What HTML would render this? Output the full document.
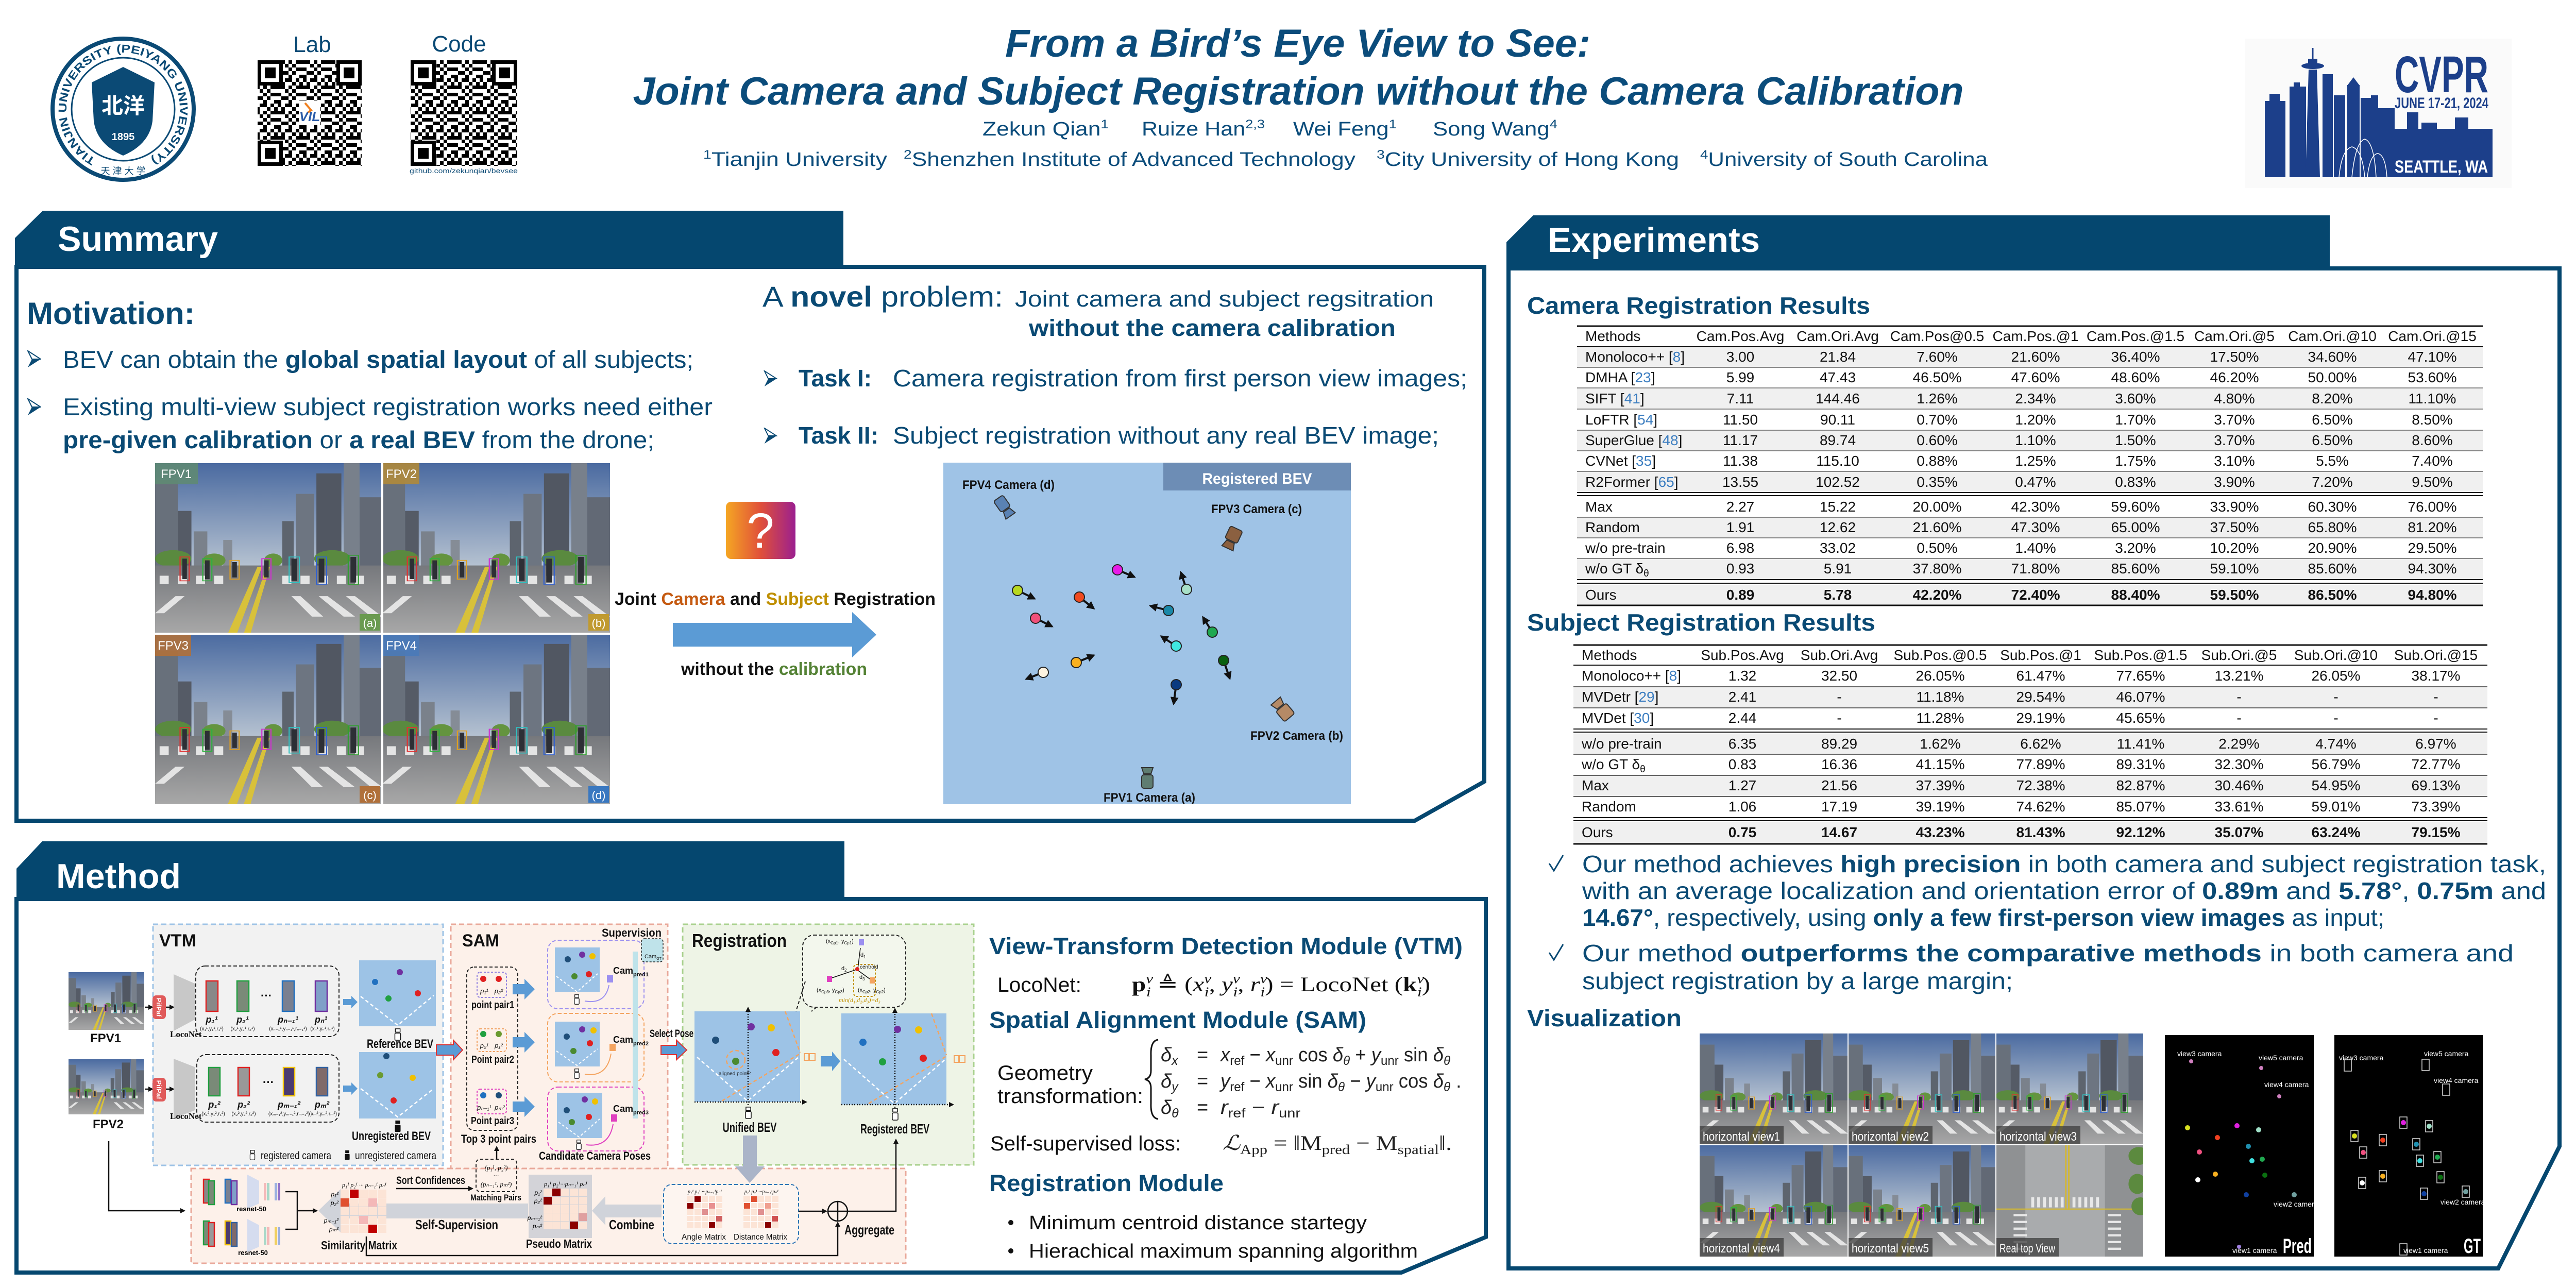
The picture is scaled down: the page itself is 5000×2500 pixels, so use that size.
<!DOCTYPE html>
<html><head><meta charset="utf-8">
<style>
html,body{margin:0;padding:0;background:#fff;width:5000px;height:2500px;overflow:hidden;}
svg{display:block;}
text{font-family:"Liberation Sans",Arial,sans-serif;}
.s{font-family:"Liberation Serif","Times New Roman",serif;}
.cjk{font-family:"Liberation Sans","Noto Sans CJK SC",sans-serif;}
</style></head><body>
<svg width="5000" height="2500" viewBox="0 0 5000 2500" xmlns="http://www.w3.org/2000/svg" xmlns:xlink="http://www.w3.org/1999/xlink">
<defs>
<linearGradient id="sky" x1="0" y1="0" x2="0" y2="1"><stop offset="0" stop-color="#4a6aa0"/><stop offset="1" stop-color="#b8c4d2"/></linearGradient>
<linearGradient id="gnd" x1="0" y1="0" x2="0" y2="1"><stop offset="0" stop-color="#76787c"/><stop offset="1" stop-color="#a8a8a8"/></linearGradient>
<linearGradient id="qg" x1="0" y1="0" x2="1" y2="0"><stop offset="0" stop-color="#f5a623"/><stop offset="0.5" stop-color="#e0503a"/><stop offset="1" stop-color="#9b1f8f"/></linearGradient>
<marker id="ah" viewBox="0 0 10 10" refX="8" refY="5" markerWidth="4" markerHeight="4" orient="auto"><path d="M0,0 L10,5 L0,10 z" fill="#111"/></marker>
<pattern id="qr" x="0" y="5" width="49" height="49" patternUnits="userSpaceOnUse">
<rect width="49" height="49" fill="#fff"/>
<g fill="#000">
<rect x="0" y="0" width="7" height="7"/><rect x="14" y="0" width="14" height="7"/><rect x="35" y="0" width="7" height="7"/>
<rect x="7" y="7" width="7" height="7"/><rect x="28" y="7" width="7" height="7"/><rect x="42" y="7" width="7" height="7"/>
<rect x="0" y="14" width="14" height="7"/><rect x="21" y="14" width="7" height="7"/><rect x="35" y="14" width="14" height="7"/>
<rect x="14" y="21" width="7" height="7"/><rect x="28" y="21" width="7" height="7"/>
<rect x="0" y="28" width="7" height="7"/><rect x="21" y="28" width="7" height="7"/><rect x="35" y="28" width="14" height="7"/>
<rect x="7" y="35" width="14" height="7"/><rect x="28" y="35" width="7" height="7"/>
<rect x="0" y="42" width="7" height="7"/><rect x="21" y="42" width="7" height="7"/><rect x="42" y="42" width="7" height="7"/>
</g></pattern>
<symbol id="fd" viewBox="0 0 49 49"><rect width="49" height="49" fill="#000"/><rect x="7" y="7" width="35" height="35" fill="#fff"/><rect x="14" y="14" width="21" height="21" fill="#000"/></symbol>
<symbol id="street" viewBox="0 0 100 100" preserveAspectRatio="none">
<rect width="100" height="62" fill="url(#sky)"/>
<rect x="0" y="10" width="10" height="52" fill="#68707b"/>
<rect x="10" y="28" width="6" height="34" fill="#555b66"/>
<rect x="17" y="40" width="6" height="22" fill="#7a818b"/>
<rect x="30" y="45" width="4" height="17" fill="#858c96"/>
<rect x="56" y="34" width="5" height="28" fill="#5d646e"/>
<rect x="62" y="18" width="8" height="44" fill="#6d7581"/>
<rect x="71" y="6" width="11" height="56" fill="#515762"/>
<rect x="83" y="0" width="7" height="62" fill="#78808b"/>
<rect x="90" y="20" width="10" height="42" fill="#626975"/>
<ellipse cx="8" cy="56" rx="8" ry="5" fill="#5a8a3f"/>
<ellipse cx="26" cy="57" rx="5" ry="4" fill="#64943f"/>
<ellipse cx="52" cy="57" rx="4" ry="4" fill="#64943f"/>
<ellipse cx="78" cy="56" rx="8" ry="5" fill="#5a8a3f"/>
<rect y="60" width="100" height="40" fill="url(#gnd)"/>
<g fill="#e4e4e4">
<rect x="2" y="66" width="4" height="5"/><rect x="10" y="66" width="4" height="5"/><rect x="18" y="66" width="4" height="5"/><rect x="26" y="66" width="4" height="5"/><rect x="56" y="66" width="4" height="5"/><rect x="64" y="66" width="4" height="5"/><rect x="72" y="66" width="4" height="5"/><rect x="80" y="66" width="4" height="5"/><rect x="88" y="66" width="4" height="5"/>
<polygon points="0,88 9,78 13,78 4,88"/><polygon points="60,78 64,78 74,90 69,90"/><polygon points="72,78 76,78 88,90 83,90"/><polygon points="84,78 88,78 100,90 95,90"/>
</g>
<polygon points="45,61 47,61 36,100 32,100" fill="#d8c13a"/>
<polygon points="49,61 50.5,61 42,100 39,100" fill="#d8c13a"/>
<g fill="#2d2f35">
<rect x="12" y="56" width="2" height="12"/><rect x="22" y="57" width="2" height="11"/><rect x="34" y="58" width="2" height="9"/><rect x="48" y="57" width="2" height="10"/><rect x="60" y="56" width="2.5" height="13"/><rect x="72" y="56" width="2.5" height="14"/><rect x="86" y="55" width="2.5" height="15"/>
</g>
<g fill="none" stroke-width="0.5">
<rect x="11" y="55" width="4" height="14" stroke="#e03030"/><rect x="21" y="56" width="4" height="13" stroke="#30b040"/><rect x="33" y="57" width="4" height="11" stroke="#e0a020"/><rect x="47" y="56" width="4" height="12" stroke="#d030d0"/><rect x="59" y="55" width="4.5" height="15" stroke="#30c0c0"/><rect x="71" y="55" width="4.5" height="16" stroke="#3060d0"/><rect x="85" y="54" width="4.5" height="17" stroke="#30a030"/>
</g>
</symbol>
<symbol id="topv" viewBox="0 0 100 100" preserveAspectRatio="none">
<rect width="100" height="100" fill="#8f9193"/>
<rect x="20" width="54" height="100" fill="#a9abad"/>
<rect x="47" width="1" height="58" fill="#d4b830"/><rect x="49" width="1" height="58" fill="#d4b830"/>
<rect x="0" y="57" width="100" height="1" fill="#d4b830"/>
<g fill="#e8e8e8"><rect x="24" y="47" width="2" height="9"/><rect x="28" y="47" width="2" height="9"/><rect x="32" y="47" width="2" height="9"/><rect x="36" y="47" width="2" height="9"/><rect x="40" y="47" width="2" height="9"/><rect x="44" y="47" width="2" height="9"/><rect x="52" y="47" width="2" height="9"/><rect x="56" y="47" width="2" height="9"/><rect x="60" y="47" width="2" height="9"/><rect x="64" y="47" width="2" height="9"/><rect x="68" y="47" width="2" height="9"/>
<rect x="12" y="62" width="9" height="2"/><rect x="12" y="68" width="9" height="2"/><rect x="12" y="74" width="9" height="2"/><rect x="12" y="80" width="9" height="2"/><rect x="12" y="86" width="9" height="2"/><rect x="12" y="92" width="9" height="2"/>
<rect x="76" y="62" width="9" height="2"/><rect x="76" y="68" width="9" height="2"/><rect x="76" y="74" width="9" height="2"/><rect x="76" y="80" width="9" height="2"/><rect x="76" y="86" width="9" height="2"/><rect x="76" y="92" width="9" height="2"/></g>
<ellipse cx="97" cy="10" rx="7" ry="8" fill="#5c8a3f"/><ellipse cx="96" cy="35" rx="6" ry="9" fill="#5c8a3f"/><ellipse cx="98" cy="55" rx="6" ry="8" fill="#5c8a3f"/>
</symbol>
<symbol id="bul" viewBox="0 0 27 34"><path d="M1,1 L26,17 L9,17 Z" fill="#fff" stroke="#0a4a74" stroke-width="2"/><path d="M1,33 L26,17 L9,17 Z" fill="#0a4a74"/></symbol>
<symbol id="camo" viewBox="0 0 14 26"><rect x="2" y="1" width="10" height="7" fill="#fff" stroke="#111" stroke-width="1.6"/><rect x="1" y="10" width="12" height="15" rx="2" fill="#fff" stroke="#111" stroke-width="1.6"/></symbol>
<symbol id="camf" viewBox="0 0 14 26"><rect x="2" y="1" width="10" height="7" fill="#111"/><rect x="1" y="10" width="12" height="15" rx="2" fill="#111"/></symbol>
</defs>

<rect width="5000" height="2500" fill="#fff"/>

<!-- ===== HEADER ===== -->
<circle cx="239" cy="212" r="137" fill="#fff" stroke="#0b4a75" stroke-width="8"/>
<circle cx="239" cy="212" r="100" fill="none" stroke="#0b4a75" stroke-width="3"/>
<path id="ringp" d="M239,322 A110,110 0 1,1 239,102 A110,110 0 1,1 239,322" fill="none"/>
<text font-size="22" font-weight="bold" fill="#0b4a75"><textPath href="#ringp" xlink:href="#ringp" startOffset="55" textLength="580" lengthAdjust="spacingAndGlyphs">TIANJIN UNIVERSITY (PEIYANG UNIVERSITY)</textPath></text>
<path d="M239,130 L300,160 L296,235 Q290,280 239,302 Q188,280 182,235 L178,160 Z" fill="#0b4a75"/>
<text x="239" y="220" font-size="42" font-weight="bold" fill="#fff" text-anchor="middle" class="cjk">北洋</text>
<text x="239" y="272" font-size="20" font-weight="bold" fill="#fff" text-anchor="middle">1895</text>
<text x="239" y="338" font-size="18" fill="#0b4a75" text-anchor="middle" class="cjk">天 津 大 学</text>

<text x="606" y="101" font-size="44" fill="#0b4a75" text-anchor="middle">Lab</text>
<rect x="500" y="117" width="202" height="205" fill="url(#qr)"/>
<use href="#fd" xlink:href="#fd" x="500" y="117" width="49" height="49"/>
<use href="#fd" xlink:href="#fd" x="653" y="117" width="49" height="49"/>
<use href="#fd" xlink:href="#fd" x="500" y="273" width="49" height="49"/>
<rect x="580" y="195" width="42" height="48" fill="#fff"/>
<text x="601" y="235" font-size="26" font-weight="bold" font-style="italic" fill="#2a5ba8" text-anchor="middle">VIL</text>
<path d="M592,200 L604,214 L598,218" stroke="#f08020" stroke-width="4" fill="none"/>

<text x="891" y="100" font-size="44" fill="#0b4a75" text-anchor="middle">Code</text>
<rect x="797" y="117" width="207" height="205" fill="url(#qr)"/>
<use href="#fd" xlink:href="#fd" x="797" y="117" width="49" height="49"/>
<use href="#fd" xlink:href="#fd" x="955" y="117" width="49" height="49"/>
<use href="#fd" xlink:href="#fd" x="797" y="273" width="49" height="49"/>
<text x="900" y="336" font-size="13" fill="#0b4a75" text-anchor="middle" textLength="210" lengthAdjust="spacingAndGlyphs">github.com/zekunqian/bevsee</text>

<text x="2519" y="110" text-anchor="middle" font-size="76" font-weight="bold" font-style="italic" fill="#0b4c7b" textLength="1136" lengthAdjust="spacingAndGlyphs">From a Bird’s Eye View to See:</text>
<text x="2520" y="203" text-anchor="middle" font-size="76" font-weight="bold" font-style="italic" fill="#0b4c7b" textLength="2583" lengthAdjust="spacingAndGlyphs">Joint Camera and Subject Registration without the Camera Calibration</text>

<g font-size="38" fill="#0b4c7b">
<text x="1907" y="263" textLength="245" lengthAdjust="spacingAndGlyphs">Zekun Qian<tspan font-size="24" dy="-14">1</tspan></text>
<text x="2216" y="263" textLength="239" lengthAdjust="spacingAndGlyphs">Ruize Han<tspan font-size="24" dy="-14">2,3</tspan></text>
<text x="2510" y="263" textLength="201" lengthAdjust="spacingAndGlyphs">Wei Feng<tspan font-size="24" dy="-14">1</tspan></text>
<text x="2781" y="263" textLength="242" lengthAdjust="spacingAndGlyphs">Song Wang<tspan font-size="24" dy="-14">4</tspan></text>
<text x="1365" y="322" textLength="357" lengthAdjust="spacingAndGlyphs"><tspan font-size="24" dy="-14">1</tspan><tspan dy="14">Tianjin University</tspan></text>
<text x="1754" y="322" textLength="877" lengthAdjust="spacingAndGlyphs"><tspan font-size="24" dy="-14">2</tspan><tspan dy="14">Shenzhen Institute of Advanced Technology</tspan></text>
<text x="2672" y="322" textLength="587" lengthAdjust="spacingAndGlyphs"><tspan font-size="24" dy="-14">3</tspan><tspan dy="14">City University of Hong Kong</tspan></text>
<text x="3300" y="322" textLength="558" lengthAdjust="spacingAndGlyphs"><tspan font-size="24" dy="-14">4</tspan><tspan dy="14">University of South Carolina</tspan></text>
</g>

<!-- CVPR logo -->
<rect x="4357" y="75" width="518" height="290" fill="#fafafa"/>
<g fill="#1c3f8a">
<rect x="4396" y="196" width="40" height="148"/><rect x="4405" y="182" width="20" height="16"/>
<rect x="4444" y="168" width="32" height="176"/><rect x="4452" y="160" width="12" height="10"/>
<polygon points="4481,135 4497,135 4503,344 4475,344"/>
<ellipse cx="4489" cy="128" rx="22" ry="6"/><rect x="4480" y="114" width="18" height="12"/><rect x="4487.5" y="93" width="3" height="22"/>
<rect x="4508" y="144" width="20" height="200"/>
<rect x="4530" y="185" width="22" height="159"/>
<rect x="4556" y="165" width="24" height="179"/><polygon points="4556,166 4568,150 4580,166"/>
<rect x="4582" y="190" width="20" height="154"/>
<rect x="4602" y="185" width="14" height="159"/>
<rect x="4616" y="210" width="32" height="134"/>
<rect x="4648" y="250" width="190" height="94"/>
<rect x="4672" y="218" width="22" height="34"/><rect x="4700" y="238" width="30" height="14"/><rect x="4765" y="228" width="26" height="24"/>
<path d="M4790,255 Q4815,240 4838,280 L4838,255 Z"/>
</g>
<g stroke="#fff" stroke-width="1.5" fill="none"><path d="M4540,344 Q4545,290 4565,285 Q4585,290 4590,344"/><path d="M4565,344 Q4572,275 4590,270 Q4608,275 4612,344"/><path d="M4595,344 Q4600,300 4615,298 Q4630,300 4633,344"/></g>
<text x="4648" y="179" font-size="100" font-weight="bold" fill="#1c3f8a" textLength="182" lengthAdjust="spacingAndGlyphs">CVPR</text>
<text x="4648" y="210" font-size="30" font-weight="bold" fill="#1c3f8a" textLength="182" lengthAdjust="spacingAndGlyphs">JUNE 17-21, 2024</text>
<text x="4648" y="335" font-size="34" font-weight="bold" fill="#fff" textLength="181" lengthAdjust="spacingAndGlyphs">SEATTLE, WA</text>

<!-- ===== SUMMARY PANEL ===== -->
<path d="M32,518 H2881 V1517 L2746,1593 H32 Z" fill="#fff" stroke="#05476f" stroke-width="8"/>
<polygon points="83,409 1637,409 1637,522 29,522 29,462" fill="#05476f"/>
<text x="112" y="487" font-size="68" font-weight="bold" fill="#fff" textLength="311" lengthAdjust="spacingAndGlyphs">Summary</text>

<text x="52" y="629" font-size="60" font-weight="bold" fill="#0a4a74" textLength="326" lengthAdjust="spacingAndGlyphs">Motivation:</text>
<use href="#bul" xlink:href="#bul" x="53" y="680" width="27" height="34"/>
<text x="122" y="714" font-size="47" fill="#0a4a74" textLength="1224" lengthAdjust="spacingAndGlyphs">BEV can obtain the <tspan font-weight="bold">global spatial layout</tspan> of all subjects;</text>
<use href="#bul" xlink:href="#bul" x="53" y="773" width="27" height="34"/>
<text x="122" y="806" font-size="47" fill="#0a4a74" textLength="1261" lengthAdjust="spacingAndGlyphs">Existing multi-view subject registration works need either</text>
<text x="122" y="870" font-size="47" fill="#0a4a74" textLength="1148" lengthAdjust="spacingAndGlyphs"><tspan font-weight="bold">pre-given calibration</tspan> or <tspan font-weight="bold">a real BEV</tspan> from the drone;</text>

<text x="1480" y="595" font-size="56" fill="#0a4a74" textLength="467" lengthAdjust="spacingAndGlyphs">A <tspan font-weight="bold">novel</tspan> problem:</text>
<text x="1970" y="595" font-size="44" fill="#0a4a74" textLength="813" lengthAdjust="spacingAndGlyphs">Joint camera and subject regsitration</text>
<text x="1997" y="652" font-size="45" font-weight="bold" fill="#0a4a74" textLength="712" lengthAdjust="spacingAndGlyphs">without the camera calibration</text>
<use href="#bul" xlink:href="#bul" x="1482" y="719" width="27" height="32"/>
<text x="1550" y="750" font-size="46" font-weight="bold" fill="#0a4a74" textLength="142" lengthAdjust="spacingAndGlyphs">Task I:</text>
<text x="1733" y="750" font-size="46" fill="#0a4a74" textLength="1115" lengthAdjust="spacingAndGlyphs">Camera registration from first person view images;</text>
<use href="#bul" xlink:href="#bul" x="1482" y="830" width="27" height="32"/>
<text x="1550" y="861" font-size="46" font-weight="bold" fill="#0a4a74" textLength="155" lengthAdjust="spacingAndGlyphs">Task II:</text>
<text x="1733" y="861" font-size="46" fill="#0a4a74" textLength="1060" lengthAdjust="spacingAndGlyphs">Subject registration without any real BEV image;</text>

<!-- photos -->
<use href="#street" xlink:href="#street" x="301" y="899" width="441" height="331"/>
<use href="#street" xlink:href="#street" x="742" y="899" width="442" height="331"/>
<use href="#street" xlink:href="#street" x="301" y="1230" width="441" height="331"/>
<use href="#street" xlink:href="#street" x="742" y="1230" width="442" height="331"/>
<rect x="740" y="899" width="4" height="662" fill="#fff"/><rect x="301" y="1228" width="883" height="4" fill="#fff"/>
<rect x="301" y="899" width="83" height="41" fill="#5f8a73" opacity="0.9"/><text x="342" y="928" font-size="24" fill="#fff" text-anchor="middle">FPV1</text>
<rect x="744" y="899" width="70" height="41" fill="#b08a3a" opacity="0.9"/><text x="779" y="928" font-size="24" fill="#fff" text-anchor="middle">FPV2</text>
<rect x="301" y="1232" width="70" height="41" fill="#b0703a" opacity="0.9"/><text x="336" y="1261" font-size="24" fill="#fff" text-anchor="middle">FPV3</text>
<rect x="744" y="1232" width="70" height="41" fill="#4a7ab8" opacity="0.9"/><text x="779" y="1261" font-size="24" fill="#fff" text-anchor="middle">FPV4</text>
<rect x="698" y="1192" width="40" height="32" fill="#6a9a50"/><text x="718" y="1217" font-size="22" fill="#fff" text-anchor="middle">(a)</text>
<rect x="1142" y="1192" width="40" height="32" fill="#c09a30"/><text x="1162" y="1217" font-size="22" fill="#fff" text-anchor="middle">(b)</text>
<rect x="698" y="1526" width="40" height="32" fill="#b0703a"/><text x="718" y="1551" font-size="22" fill="#fff" text-anchor="middle">(c)</text>
<rect x="1142" y="1526" width="40" height="32" fill="#3a78c0"/><text x="1162" y="1551" font-size="22" fill="#fff" text-anchor="middle">(d)</text>

<rect x="1409" y="974" width="135" height="111" rx="10" fill="url(#qg)"/>
<text x="1476" y="1063" font-size="96" fill="#fff" text-anchor="middle">?</text>
<text x="1193" y="1174" font-size="34" font-weight="bold" fill="#111" textLength="623" lengthAdjust="spacingAndGlyphs">Joint <tspan fill="#c55a11">Camera</tspan> and <tspan fill="#bf8f00">Subject</tspan> Registration</text>
<polygon points="1306,1209 1654,1209 1654,1188 1701,1232 1654,1276 1654,1255 1306,1255" fill="#5b9bd5"/>
<text x="1322" y="1310" font-size="34" font-weight="bold" fill="#111" textLength="361" lengthAdjust="spacingAndGlyphs">without the <tspan fill="#548235">calibration</tspan></text>

<!-- summary BEV -->
<rect x="1831" y="898" width="791" height="663" fill="#9fc3e6"/>
<rect x="2258" y="898" width="364" height="54" fill="#6d8db5"/>
<text x="2440" y="939" font-size="30" font-weight="bold" fill="#fff" text-anchor="middle" textLength="213" lengthAdjust="spacingAndGlyphs">Registered BEV</text>
<g font-size="24" font-weight="bold" fill="#111">
<text x="1868" y="949" textLength="179" lengthAdjust="spacingAndGlyphs">FPV4 Camera (d)</text>
<text x="2351" y="996" textLength="176" lengthAdjust="spacingAndGlyphs">FPV3 Camera (c)</text>
<text x="2427" y="1436" textLength="180" lengthAdjust="spacingAndGlyphs">FPV2 Camera (b)</text>
<text x="2142" y="1556" textLength="178" lengthAdjust="spacingAndGlyphs">FPV1 Camera (a)</text>
</g>
<g stroke="#333" stroke-width="2">
<g transform="translate(1950,985) rotate(-35)"><rect x="-11" y="-22" width="22" height="26" rx="4" fill="#5a82b4"/><polygon points="-7,6 7,6 11,20 -11,20" fill="#5a82b4"/></g>
<g transform="translate(2391,1046) rotate(25)"><rect x="-13" y="-22" width="26" height="26" rx="4" fill="#8b6040"/><polygon points="-8,6 8,6 12,20 -12,20" fill="#8b6040"/></g>
<g transform="translate(2489,1376) rotate(140)"><rect x="-13" y="-22" width="26" height="26" rx="4" fill="#b58a66"/><polygon points="-8,6 8,6 12,20 -12,20" fill="#b58a66"/></g>
<g transform="translate(2227,1508) rotate(180)"><rect x="-11" y="-22" width="22" height="26" rx="4" fill="#5f7d72"/><polygon points="-7,6 7,6 11,18 -11,18" fill="#5f7d72"/></g>
</g>
<g stroke="#111" stroke-width="4" marker-end="url(#ah)">
<line x1="2169" y1="1106" x2="2202" y2="1120"/><line x1="2303" y1="1144" x2="2292" y2="1111"/><line x1="1975" y1="1146" x2="2008" y2="1162"/><line x1="2095" y1="1159" x2="2123" y2="1181"/><line x1="2268" y1="1185" x2="2233" y2="1176"/><line x1="2010" y1="1200" x2="2042" y2="1216"/><line x1="2353" y1="1227" x2="2335" y2="1198"/><line x1="2283" y1="1254" x2="2254" y2="1235"/><line x1="2089" y1="1286" x2="2123" y2="1272"/><line x1="2375" y1="1282" x2="2387" y2="1317"/><line x1="2025" y1="1305" x2="1992" y2="1318"/><line x1="2283" y1="1329" x2="2278" y2="1366"/>
</g>
<g stroke="#222" stroke-width="2">
<circle cx="2169" cy="1106" r="10" fill="#e81ce8"/><circle cx="2303" cy="1144" r="10" fill="#a8e0c8"/><circle cx="1975" cy="1146" r="10" fill="#b8d820"/><circle cx="2095" cy="1159" r="10" fill="#f04a20"/><circle cx="2268" cy="1185" r="10" fill="#1a88a8"/><circle cx="2010" cy="1200" r="10" fill="#f0507a"/><circle cx="2353" cy="1227" r="10" fill="#20a850"/><circle cx="2283" cy="1254" r="10" fill="#40e8e0"/><circle cx="2089" cy="1286" r="10" fill="#f8b020"/><circle cx="2375" cy="1282" r="10" fill="#0a6010"/><circle cx="2025" cy="1305" r="10" fill="#fdf3e0"/><circle cx="2283" cy="1329" r="10" fill="#0a3a80"/>
</g>

<!-- ===== EXPERIMENTS PANEL ===== -->
<path d="M2928,521 H4968 V2225 L4849,2462 H2928 Z" fill="#fff" stroke="#05476f" stroke-width="8"/>
<polygon points="2976,418 4522,418 4522,522 2924,522 2924,470" fill="#05476f"/>
<text x="3004" y="489" font-size="68" font-weight="bold" fill="#fff" textLength="412" lengthAdjust="spacingAndGlyphs">Experiments</text>

<text x="2964" y="609" font-size="46" font-weight="bold" fill="#0a4a74" textLength="666" lengthAdjust="spacingAndGlyphs">Camera Registration Results</text>
<g fill="#f0f0f0">
<rect x="3061" y="673" width="1758" height="40"/><rect x="3061" y="753" width="1758" height="41"/><rect x="3061" y="835" width="1758" height="40"/><rect x="3061" y="915" width="1758" height="41"/><rect x="3061" y="1004" width="1758" height="40"/><rect x="3061" y="1084" width="1758" height="40"/><rect x="3061" y="1135" width="1758" height="40"/>
</g>
<g stroke="#111">
<line x1="3061" y1="633" x2="4819" y2="633" stroke-width="3"/><line x1="3061" y1="673" x2="4819" y2="673" stroke-width="2"/>
<g stroke-width="1.3" stroke="#444"><line x1="3061" y1="713" x2="4819" y2="713"/><line x1="3061" y1="753" x2="4819" y2="753"/><line x1="3061" y1="794" x2="4819" y2="794"/><line x1="3061" y1="835" x2="4819" y2="835"/><line x1="3061" y1="875" x2="4819" y2="875"/><line x1="3061" y1="915" x2="4819" y2="915"/><line x1="3061" y1="1004" x2="4819" y2="1004"/><line x1="3061" y1="1044" x2="4819" y2="1044"/><line x1="3061" y1="1084" x2="4819" y2="1084"/></g>
<line x1="3061" y1="956" x2="4819" y2="956" stroke-width="2"/><line x1="3061" y1="962" x2="4819" y2="962" stroke-width="2"/>
<line x1="3061" y1="1125" x2="4819" y2="1125" stroke-width="2"/><line x1="3061" y1="1132" x2="4819" y2="1132" stroke-width="2"/>
<line x1="3061" y1="1175" x2="4819" y2="1175" stroke-width="3"/>
</g>
<g class="s" font-size="28" fill="#111">
<text x="3077" y="662">Methods</text>
<text y="662" text-anchor="middle"><tspan x="3378">Cam.Pos.Avg</tspan><tspan x="3567">Cam.Ori.Avg</tspan><tspan x="3760">Cam.Pos@0.5</tspan><tspan x="3951">Cam.Pos.@1</tspan><tspan x="4145">Cam.Pos.@1.5</tspan><tspan x="4337">Cam.Ori.@5</tspan><tspan x="4527">Cam.Ori.@10</tspan><tspan x="4721">Cam.Ori.@15</tspan></text>
<text x="3077" y="702">Monoloco++ [<tspan fill="#3b7dc0">8</tspan>]</text>
<text y="702" text-anchor="middle"><tspan x="3378">3.00</tspan><tspan x="3567">21.84</tspan><tspan x="3760">7.60%</tspan><tspan x="3951">21.60%</tspan><tspan x="4145">36.40%</tspan><tspan x="4337">17.50%</tspan><tspan x="4527">34.60%</tspan><tspan x="4721">47.10%</tspan></text>
<text x="3077" y="742">DMHA [<tspan fill="#3b7dc0">23</tspan>]</text>
<text y="742" text-anchor="middle"><tspan x="3378">5.99</tspan><tspan x="3567">47.43</tspan><tspan x="3760">46.50%</tspan><tspan x="3951">47.60%</tspan><tspan x="4145">48.60%</tspan><tspan x="4337">46.20%</tspan><tspan x="4527">50.00%</tspan><tspan x="4721">53.60%</tspan></text>
<text x="3077" y="783">SIFT [<tspan fill="#3b7dc0">41</tspan>]</text>
<text y="783" text-anchor="middle"><tspan x="3378">7.11</tspan><tspan x="3567">144.46</tspan><tspan x="3760">1.26%</tspan><tspan x="3951">2.34%</tspan><tspan x="4145">3.60%</tspan><tspan x="4337">4.80%</tspan><tspan x="4527">8.20%</tspan><tspan x="4721">11.10%</tspan></text>
<text x="3077" y="824">LoFTR [<tspan fill="#3b7dc0">54</tspan>]</text>
<text y="824" text-anchor="middle"><tspan x="3378">11.50</tspan><tspan x="3567">90.11</tspan><tspan x="3760">0.70%</tspan><tspan x="3951">1.20%</tspan><tspan x="4145">1.70%</tspan><tspan x="4337">3.70%</tspan><tspan x="4527">6.50%</tspan><tspan x="4721">8.50%</tspan></text>
<text x="3077" y="864">SuperGlue [<tspan fill="#3b7dc0">48</tspan>]</text>
<text y="864" text-anchor="middle"><tspan x="3378">11.17</tspan><tspan x="3567">89.74</tspan><tspan x="3760">0.60%</tspan><tspan x="3951">1.10%</tspan><tspan x="4145">1.50%</tspan><tspan x="4337">3.70%</tspan><tspan x="4527">6.50%</tspan><tspan x="4721">8.60%</tspan></text>
<text x="3077" y="904">CVNet [<tspan fill="#3b7dc0">35</tspan>]</text>
<text y="904" text-anchor="middle"><tspan x="3378">11.38</tspan><tspan x="3567">115.10</tspan><tspan x="3760">0.88%</tspan><tspan x="3951">1.25%</tspan><tspan x="4145">1.75%</tspan><tspan x="4337">3.10%</tspan><tspan x="4527">5.5%</tspan><tspan x="4721">7.40%</tspan></text>
<text x="3077" y="945">R2Former [<tspan fill="#3b7dc0">65</tspan>]</text>
<text y="945" text-anchor="middle"><tspan x="3378">13.55</tspan><tspan x="3567">102.52</tspan><tspan x="3760">0.35%</tspan><tspan x="3951">0.47%</tspan><tspan x="4145">0.83%</tspan><tspan x="4337">3.90%</tspan><tspan x="4527">7.20%</tspan><tspan x="4721">9.50%</tspan></text>
<text x="3077" y="993">Max</text>
<text y="993" text-anchor="middle"><tspan x="3378">2.27</tspan><tspan x="3567">15.22</tspan><tspan x="3760">20.00%</tspan><tspan x="3951">42.30%</tspan><tspan x="4145">59.60%</tspan><tspan x="4337">33.90%</tspan><tspan x="4527">60.30%</tspan><tspan x="4721">76.00%</tspan></text>
<text x="3077" y="1033">Random</text>
<text y="1033" text-anchor="middle"><tspan x="3378">1.91</tspan><tspan x="3567">12.62</tspan><tspan x="3760">21.60%</tspan><tspan x="3951">47.30%</tspan><tspan x="4145">65.00%</tspan><tspan x="4337">37.50%</tspan><tspan x="4527">65.80%</tspan><tspan x="4721">81.20%</tspan></text>
<text x="3077" y="1073">w/o pre-train</text>
<text y="1073" text-anchor="middle"><tspan x="3378">6.98</tspan><tspan x="3567">33.02</tspan><tspan x="3760">0.50%</tspan><tspan x="3951">1.40%</tspan><tspan x="4145">3.20%</tspan><tspan x="4337">10.20%</tspan><tspan x="4527">20.90%</tspan><tspan x="4721">29.50%</tspan></text>
<text x="3077" y="1113">w/o GT δ<tspan font-size="19" dy="6">θ</tspan></text>
<text y="1113" text-anchor="middle"><tspan x="3378">0.93</tspan><tspan x="3567">5.91</tspan><tspan x="3760">37.80%</tspan><tspan x="3951">71.80%</tspan><tspan x="4145">85.60%</tspan><tspan x="4337">59.10%</tspan><tspan x="4527">85.60%</tspan><tspan x="4721">94.30%</tspan></text>
<text x="3077" y="1164">Ours</text>
<text y="1164" text-anchor="middle" font-weight="bold"><tspan x="3378">0.89</tspan><tspan x="3567">5.78</tspan><tspan x="3760">42.20%</tspan><tspan x="3951">72.40%</tspan><tspan x="4145">88.40%</tspan><tspan x="4337">59.50%</tspan><tspan x="4527">86.50%</tspan><tspan x="4721">94.80%</tspan></text>
</g>

<text x="2964" y="1224" font-size="46" font-weight="bold" fill="#0a4a74" textLength="676" lengthAdjust="spacingAndGlyphs">Subject Registration Results</text>
<g fill="#f0f0f0">
<rect x="3054" y="1333" width="1774" height="41"/><rect x="3054" y="1424" width="1774" height="40"/><rect x="3054" y="1505" width="1774" height="41"/><rect x="3054" y="1596" width="1774" height="41"/>
</g>
<g stroke="#111">
<line x1="3054" y1="1252" x2="4828" y2="1252" stroke-width="3"/><line x1="3054" y1="1291" x2="4828" y2="1291" stroke-width="2"/>
<g stroke-width="1.6" stroke="#333"><line x1="3054" y1="1333" x2="4828" y2="1333"/><line x1="3054" y1="1374" x2="4828" y2="1374"/><line x1="3054" y1="1464" x2="4828" y2="1464"/><line x1="3054" y1="1505" x2="4828" y2="1505"/><line x1="3054" y1="1546" x2="4828" y2="1546"/></g>
<line x1="3054" y1="1415" x2="4828" y2="1415" stroke-width="2"/><line x1="3054" y1="1421" x2="4828" y2="1421" stroke-width="2"/>
<line x1="3054" y1="1587" x2="4828" y2="1587" stroke-width="2"/><line x1="3054" y1="1593" x2="4828" y2="1593" stroke-width="2"/>
<line x1="3054" y1="1638" x2="4828" y2="1638" stroke-width="3"/>
</g>
<g class="s" font-size="28" fill="#111">
<text x="3070" y="1281">Methods</text>
<text y="1281" text-anchor="middle"><tspan x="3382">Sub.Pos.Avg</tspan><tspan x="3570">Sub.Ori.Avg</tspan><tspan x="3766">Sub.Pos.@0.5</tspan><tspan x="3961">Sub.Pos.@1</tspan><tspan x="4155">Sub.Pos.@1.5</tspan><tspan x="4346">Sub.Ori.@5</tspan><tspan x="4534">Sub.Ori.@10</tspan><tspan x="4728">Sub.Ori.@15</tspan></text>
<text x="3070" y="1321">Monoloco++ [<tspan fill="#3b7dc0">8</tspan>]</text>
<text y="1321" text-anchor="middle"><tspan x="3382">1.32</tspan><tspan x="3570">32.50</tspan><tspan x="3766">26.05%</tspan><tspan x="3961">61.47%</tspan><tspan x="4155">77.65%</tspan><tspan x="4346">13.21%</tspan><tspan x="4534">26.05%</tspan><tspan x="4728">38.17%</tspan></text>
<text x="3070" y="1362">MVDetr [<tspan fill="#3b7dc0">29</tspan>]</text>
<text y="1362" text-anchor="middle"><tspan x="3382">2.41</tspan><tspan x="3570">-</tspan><tspan x="3766">11.18%</tspan><tspan x="3961">29.54%</tspan><tspan x="4155">46.07%</tspan><tspan x="4346">-</tspan><tspan x="4534">-</tspan><tspan x="4728">-</tspan></text>
<text x="3070" y="1403">MVDet [<tspan fill="#3b7dc0">30</tspan>]</text>
<text y="1403" text-anchor="middle"><tspan x="3382">2.44</tspan><tspan x="3570">-</tspan><tspan x="3766">11.28%</tspan><tspan x="3961">29.19%</tspan><tspan x="4155">45.65%</tspan><tspan x="4346">-</tspan><tspan x="4534">-</tspan><tspan x="4728">-</tspan></text>
<text x="3070" y="1453">w/o pre-train</text>
<text y="1453" text-anchor="middle"><tspan x="3382">6.35</tspan><tspan x="3570">89.29</tspan><tspan x="3766">1.62%</tspan><tspan x="3961">6.62%</tspan><tspan x="4155">11.41%</tspan><tspan x="4346">2.29%</tspan><tspan x="4534">4.74%</tspan><tspan x="4728">6.97%</tspan></text>
<text x="3070" y="1493">w/o GT δ<tspan font-size="19" dy="6">θ</tspan></text>
<text y="1493" text-anchor="middle"><tspan x="3382">0.83</tspan><tspan x="3570">16.36</tspan><tspan x="3766">41.15%</tspan><tspan x="3961">77.89%</tspan><tspan x="4155">89.31%</tspan><tspan x="4346">32.30%</tspan><tspan x="4534">56.79%</tspan><tspan x="4728">72.77%</tspan></text>
<text x="3070" y="1534">Max</text>
<text y="1534" text-anchor="middle"><tspan x="3382">1.27</tspan><tspan x="3570">21.56</tspan><tspan x="3766">37.39%</tspan><tspan x="3961">72.38%</tspan><tspan x="4155">82.87%</tspan><tspan x="4346">30.46%</tspan><tspan x="4534">54.95%</tspan><tspan x="4728">69.13%</tspan></text>
<text x="3070" y="1575">Random</text>
<text y="1575" text-anchor="middle"><tspan x="3382">1.06</tspan><tspan x="3570">17.19</tspan><tspan x="3766">39.19%</tspan><tspan x="3961">74.62%</tspan><tspan x="4155">85.07%</tspan><tspan x="4346">33.61%</tspan><tspan x="4534">59.01%</tspan><tspan x="4728">73.39%</tspan></text>
<text x="3070" y="1625">Ours</text>
<text y="1625" text-anchor="middle" font-weight="bold"><tspan x="3382">0.75</tspan><tspan x="3570">14.67</tspan><tspan x="3766">43.23%</tspan><tspan x="3961">81.43%</tspan><tspan x="4155">92.12%</tspan><tspan x="4346">35.07%</tspan><tspan x="4534">63.24%</tspan><tspan x="4728">79.15%</tspan></text>
</g>

<path d="M3007,1676 L3016,1690 L3034,1660" stroke="#0a4a74" stroke-width="3" fill="none"/>
<g font-size="46" fill="#0a4a74">
<text x="3071" y="1693" textLength="1871" lengthAdjust="spacingAndGlyphs">Our method achieves <tspan font-weight="bold">high precision</tspan> in both camera and subject registration task,</text>
<text x="3071" y="1745" textLength="1871" lengthAdjust="spacingAndGlyphs">with an average localization and orientation error of <tspan font-weight="bold">0.89m</tspan> and <tspan font-weight="bold">5.78°</tspan>,  <tspan font-weight="bold">0.75m</tspan> and</text>
<text x="3071" y="1797" textLength="1557" lengthAdjust="spacingAndGlyphs"><tspan font-weight="bold">14.67°</tspan>, respectively, using <tspan font-weight="bold">only a few first-person view images</tspan> as input;</text>
<text x="3071" y="1866" textLength="1808" lengthAdjust="spacingAndGlyphs">Our method <tspan font-weight="bold">outperforms the comparative methods</tspan> in both camera and</text>
<text x="3071" y="1920" textLength="836" lengthAdjust="spacingAndGlyphs">subject registration by a large margin;</text>
</g>
<path d="M3007,1849 L3016,1863 L3034,1833" stroke="#0a4a74" stroke-width="3" fill="none"/>

<text x="2964" y="1992" font-size="46" font-weight="bold" fill="#0a4a74" textLength="300" lengthAdjust="spacingAndGlyphs">Visualization</text>
<use href="#street" xlink:href="#street" x="3299" y="2006" width="288" height="216"/>
<use href="#street" xlink:href="#street" x="3587" y="2006" width="287" height="216"/>
<use href="#street" xlink:href="#street" x="3874" y="2006" width="286" height="216"/>
<use href="#street" xlink:href="#street" x="3299" y="2222" width="288" height="217"/>
<use href="#street" xlink:href="#street" x="3587" y="2222" width="287" height="217"/>
<use href="#topv" xlink:href="#topv" x="3874" y="2222" width="286" height="217"/>
<g fill="#fff"><rect x="3586" y="2006" width="2" height="433"/><rect x="3873" y="2006" width="2" height="433"/><rect x="3299" y="2221" width="861" height="2"/></g>
<g fill="#3c3c3c" opacity="0.75">
<rect x="3299" y="2186" width="163" height="35"/><rect x="3588" y="2186" width="163" height="35"/><rect x="3875" y="2186" width="163" height="35"/>
<rect x="3299" y="2403" width="163" height="36"/><rect x="3588" y="2403" width="163" height="36"/><rect x="3875" y="2403" width="121" height="36"/>
</g>
<g font-size="24" fill="#fff">
<text x="3305" y="2214" textLength="150" lengthAdjust="spacingAndGlyphs">horizontal view1</text>
<text x="3594" y="2214" textLength="150" lengthAdjust="spacingAndGlyphs">horizontal view2</text>
<text x="3881" y="2214" textLength="150" lengthAdjust="spacingAndGlyphs">horizontal view3</text>
<text x="3305" y="2431" textLength="150" lengthAdjust="spacingAndGlyphs">horizontal view4</text>
<text x="3594" y="2431" textLength="150" lengthAdjust="spacingAndGlyphs">horizontal view5</text>
<text x="3881" y="2431" textLength="108" lengthAdjust="spacingAndGlyphs">Real top View</text>
</g>
<rect x="4202" y="2009" width="289" height="430" fill="#000"/>
<rect x="4531" y="2009" width="288" height="430" fill="#000"/>
<g font-size="14" fill="#fff">
<text x="4226" y="2050">view3 camera</text><text x="4384" y="2058">view5 camera</text><text x="4395" y="2110">view4 camera</text><text x="4413" y="2342">view2 camera</text><text x="4333" y="2432">view1 camera</text>
<text x="4540" y="2058">view3 camera</text><text x="4705" y="2050">view5 camera</text><text x="4724" y="2102">view4 camera</text><text x="4737" y="2338">view2 camera</text><text x="4665" y="2432">view1 camera</text>
</g>
<text x="4431" y="2432" font-size="40" font-weight="bold" fill="#fff" textLength="56" lengthAdjust="spacingAndGlyphs">Pred</text>
<text x="4782" y="2432" font-size="40" font-weight="bold" fill="#fff" textLength="33" lengthAdjust="spacingAndGlyphs">GT</text>
<g>
<circle cx="4246" cy="2189" r="5" fill="#d8e020"/><circle cx="4342" cy="2185" r="5" fill="#e020e0"/><circle cx="4384" cy="2193" r="5" fill="#a0e0c8"/><circle cx="4304" cy="2208" r="5" fill="#f04020"/><circle cx="4364" cy="2225" r="5" fill="#2090b0"/><circle cx="4269" cy="2236" r="5" fill="#f05080"/><circle cx="4371" cy="2253" r="5" fill="#40e0e0"/><circle cx="4391" cy="2250" r="5" fill="#20a850"/><circle cx="4300" cy="2279" r="5" fill="#f8b020"/><circle cx="4396" cy="2281" r="5" fill="#0a7010"/><circle cx="4266" cy="2290" r="5" fill="#fff"/><circle cx="4360" cy="2319" r="5" fill="#1040a0"/><circle cx="4453" cy="2319" r="5" fill="#70a0a0"/>
<circle cx="4253" cy="2060" r="4" fill="#d080c0"/><circle cx="4389" cy="2073" r="4" fill="#d080c0"/><circle cx="4424" cy="2128" r="4" fill="#d080c0"/><circle cx="4346" cy="2420" r="4" fill="#a080e0"/>
</g>
<g stroke="#ddd" stroke-width="1.5" fill="none">
<rect x="4658" y="2168" width="14" height="22"/><rect x="4708" y="2175" width="14" height="22"/><rect x="4563" y="2194" width="14" height="22"/><rect x="4618" y="2202" width="14" height="22"/><rect x="4683" y="2210" width="14" height="22"/><rect x="4580" y="2226" width="14" height="22"/><rect x="4690" y="2242" width="14" height="22"/><rect x="4724" y="2235" width="14" height="22"/><rect x="4618" y="2272" width="14" height="22"/><rect x="4578" y="2285" width="14" height="22"/><rect x="4730" y="2274" width="14" height="22"/><rect x="4698" y="2306" width="14" height="22"/><rect x="4779" y="2302" width="14" height="22"/>
<rect x="4550" y="2057" width="14" height="22"/><rect x="4701" y="2056" width="14" height="22"/><rect x="4741" y="2104" width="14" height="22"/><rect x="4658" y="2414" width="14" height="22"/>
</g>
<g>
<circle cx="4665" cy="2179" r="5" fill="#e020e0"/><circle cx="4715" cy="2186" r="5" fill="#a0e0c8"/><circle cx="4570" cy="2205" r="5" fill="#d8e020"/><circle cx="4625" cy="2213" r="5" fill="#f04020"/><circle cx="4690" cy="2221" r="5" fill="#2090b0"/><circle cx="4587" cy="2237" r="5" fill="#f05080"/><circle cx="4697" cy="2253" r="5" fill="#40e0e0"/><circle cx="4731" cy="2246" r="5" fill="#20a850"/><circle cx="4625" cy="2283" r="5" fill="#f8b020"/><circle cx="4585" cy="2296" r="5" fill="#fff"/><circle cx="4737" cy="2285" r="5" fill="#0a7010"/><circle cx="4705" cy="2317" r="5" fill="#1040a0"/><circle cx="4786" cy="2313" r="5" fill="#70a0a0"/>
</g>

<!-- ===== METHOD PANEL ===== -->
<path d="M32,1745 H2884 V2401 L2720,2470 H32 Z" fill="#fff" stroke="#05476f" stroke-width="8"/>
<polygon points="82,1633 1639,1633 1639,1748 32,1748 32,1686" fill="#05476f"/>
<text x="109" y="1724" font-size="68" font-weight="bold" fill="#fff" textLength="242" lengthAdjust="spacingAndGlyphs">Method</text>

<!-- diagram boxes -->
<rect x="371" y="2268" width="1387" height="184" fill="#fdf1ea" stroke="#e9a89a" stroke-width="3" stroke-dasharray="10,6"/>
<rect x="297" y="1794" width="563" height="468" fill="#f2f2f2" stroke="#9dc3e6" stroke-width="3" stroke-dasharray="10,6"/>
<rect x="875" y="1794" width="421" height="474" fill="#fdf1ea" stroke="#e9a89a" stroke-width="3" stroke-dasharray="10,6"/>
<rect x="1325" y="1794" width="565" height="467" fill="#eef4e6" stroke="#a9d18e" stroke-width="3" stroke-dasharray="10,6"/>

<!-- VTM -->
<text x="309" y="1837" font-size="34" font-weight="bold" fill="#111" textLength="72" lengthAdjust="spacingAndGlyphs">VTM</text>
<use href="#street" xlink:href="#street" x="133" y="1887" width="147" height="112"/>
<use href="#street" xlink:href="#street" x="133" y="2056" width="146" height="107"/>
<text x="205" y="2023" font-size="24" font-weight="bold" fill="#111" text-anchor="middle">FPV1</text>
<text x="210" y="2190" font-size="24" font-weight="bold" fill="#111" text-anchor="middle">FPV2</text>
<g stroke="#111" stroke-width="2.5" marker-end="url(#ah)"><line x1="281" y1="1955" x2="296" y2="1955"/><line x1="322" y1="1955" x2="337" y2="1955"/><line x1="281" y1="2114" x2="296" y2="2114"/><line x1="322" y1="2114" x2="337" y2="2114"/></g>
<rect x="296" y="1932" width="26" height="46" rx="7" fill="#e05a5a"/>
<rect x="296" y="2092" width="26" height="46" rx="7" fill="#e05a5a"/>
<text transform="translate(304,1955) rotate(90)" font-size="13" font-weight="bold" fill="#fff" text-anchor="middle">PifPaf</text>
<text transform="translate(304,2115) rotate(90)" font-size="13" font-weight="bold" fill="#fff" text-anchor="middle">PifPaf</text>
<polygon points="337,1891 378,1909 378,1979 337,2001" fill="#c8c8c8"/>
<polygon points="337,2055 378,2071 378,2155 337,2171" fill="#c8c8c8"/>
<text x="330" y="2013" class="s" font-size="17" font-weight="bold" fill="#111">LocoNet</text>
<text x="330" y="2172" class="s" font-size="17" font-weight="bold" fill="#111">LocoNet</text>
<rect x="380" y="1875" width="278" height="137" rx="18" fill="none" stroke="#222" stroke-width="2" stroke-dasharray="7,4"/>
<rect x="382" y="2047" width="276" height="131" rx="18" fill="none" stroke="#222" stroke-width="2" stroke-dasharray="7,4"/>
<g stroke-width="2.5">
<rect x="400" y="1904" width="23" height="59" fill="#888" stroke="#e02020"/><rect x="460" y="1904" width="23" height="59" fill="#7a8a78" stroke="#20a040"/><rect x="548" y="1904" width="23" height="59" fill="#7a8090" stroke="#2070c0"/><rect x="612" y="1904" width="23" height="59" fill="#80a0c8" stroke="#7030a0"/>
<rect x="405" y="2072" width="22" height="55" fill="#7a8a78" stroke="#20a040"/><rect x="462" y="2072" width="22" height="55" fill="#999" stroke="#e02020"/><rect x="550" y="2072" width="22" height="55" fill="#4a3a70" stroke="#f0c000"/><rect x="614" y="2072" width="22" height="55" fill="#806a6a" stroke="#3060a0"/>
</g>
<text x="517" y="1940" font-size="22" font-weight="bold" text-anchor="middle">···</text>
<text x="521" y="2108" font-size="22" font-weight="bold" text-anchor="middle">···</text>
<g class="s" font-size="18" font-style="italic" font-weight="bold" text-anchor="middle" fill="#111">
<text x="411" y="1985">p₁¹</text><text x="471" y="1985">p₂¹</text><text x="559" y="1985">pₙ₋₁¹</text><text x="623" y="1985">pₙ¹</text>
<text x="416" y="2150">p₁²</text><text x="473" y="2150">p₂²</text><text x="561" y="2150">pₘ₋₁²</text><text x="625" y="2150">pₘ²</text>
</g>
<g class="s" font-size="10" text-anchor="middle" fill="#111">
<text x="411" y="2000">(x₁¹,y₁¹,r₁¹)</text><text x="471" y="2000">(x₂¹,y₂¹,r₂¹)</text><text x="559" y="2000">(xₙ₋₁¹,yₙ₋₁¹,rₙ₋₁¹)</text><text x="626" y="2000">(xₙ¹,yₙ¹,rₙ¹)</text>
<text x="414" y="2165">(x₁²,y₁²,r₁²)</text><text x="473" y="2165">(x₂²,y₂²,r₂²)</text><text x="561" y="2165">(xₘ₋₁²,yₘ₋₁²,rₘ₋₁²)</text><text x="627" y="2165">(xₘ²,yₘ²,rₘ²)</text>
</g>
<polygon points="666,1939 682,1939 682,1933 694,1945 682,1957 682,1951 666,1951" fill="#5b9bd5"/>
<polygon points="666,2107 682,2107 682,2101 694,2113 682,2125 682,2119 666,2119" fill="#5b9bd5"/>
<rect x="697" y="1864" width="149" height="128" fill="#9dc3e6"/>
<rect x="697" y="2042" width="149" height="129" fill="#9dc3e6"/>
<polyline points="700,1934 772,1990 842,1932" fill="none" stroke="#fff" stroke-width="2.5" stroke-dasharray="7,5"/>
<polyline points="700,2113 772,2168 842,2113" fill="none" stroke="#fff" stroke-width="2.5" stroke-dasharray="7,5"/>
<circle cx="776" cy="1887" r="6" fill="#7030a0"/><circle cx="728" cy="1906" r="6" fill="#2070c0"/><circle cx="754" cy="1938" r="6" fill="#20a040"/><circle cx="811" cy="1928" r="6" fill="#e02020"/>
<circle cx="750" cy="2050" r="6" fill="#1f4e79"/><circle cx="738" cy="2087" r="6" fill="#6a9a30"/><circle cx="801" cy="2092" r="6" fill="#f0c000"/><circle cx="764" cy="2136" r="6" fill="#e02020"/>
<use href="#camo" xlink:href="#camo" x="765" y="1996" width="14" height="24"/>
<use href="#camf" xlink:href="#camf" x="765" y="2174" width="14" height="24"/>
<text x="712" y="2034" font-size="24" font-weight="bold" fill="#111" textLength="129" lengthAdjust="spacingAndGlyphs">Reference BEV</text>
<text x="683" y="2213" font-size="24" font-weight="bold" fill="#111" textLength="153" lengthAdjust="spacingAndGlyphs">Unregistered BEV</text>
<use href="#camo" xlink:href="#camo" x="484" y="2232" width="12" height="20"/>
<text x="506" y="2250" font-size="21" fill="#111" textLength="137" lengthAdjust="spacingAndGlyphs">registered camera</text>
<use href="#camf" xlink:href="#camf" x="668" y="2232" width="12" height="20"/>
<text x="689" y="2250" font-size="21" fill="#111" textLength="158" lengthAdjust="spacingAndGlyphs">unregistered camera</text>
<polygon points="847,2028 880,2028 880,2019 898,2038 880,2057 880,2048 847,2048" fill="#5b9bd5" stroke="#e03030" stroke-width="2"/>

<!-- SAM -->
<text x="897" y="1837" font-size="34" font-weight="bold" fill="#111" textLength="72" lengthAdjust="spacingAndGlyphs">SAM</text>
<text x="1168" y="1818" font-size="22" font-weight="bold" fill="#111" textLength="116" lengthAdjust="spacingAndGlyphs">Supervision</text>
<rect x="906" y="1877" width="99" height="317" rx="14" fill="none" stroke="#222" stroke-width="2" stroke-dasharray="6,4"/>
<rect x="926" y="1887" width="57" height="49" rx="6" fill="none" stroke="#9080e0" stroke-width="2" stroke-dasharray="4,3"/>
<rect x="926" y="1997" width="57" height="44" rx="6" fill="none" stroke="#f0a060" stroke-width="2" stroke-dasharray="4,3"/>
<rect x="926" y="2114" width="57" height="48" rx="6" fill="none" stroke="#e040c0" stroke-width="2" stroke-dasharray="4,3"/>
<circle cx="938" cy="1900" r="6" fill="#e02020"/><circle cx="968" cy="1900" r="6" fill="#e02020"/>
<circle cx="938" cy="2007" r="6" fill="#20a040"/><circle cx="968" cy="2007" r="6" fill="#6a9a30"/>
<circle cx="938" cy="2126" r="6" fill="#2070c0"/><circle cx="968" cy="2126" r="6" fill="#1f4e79"/>
<g class="s" font-size="13" font-style="italic" fill="#111" text-anchor="middle">
<text x="940" y="1928">p₁¹</text><text x="968" y="1928">p₂²</text><text x="940" y="2034">p₂¹</text><text x="968" y="2034">p₁²</text><text x="940" y="2154">pₙ₋₁¹</text><text x="970" y="2154">pₘ²</text>
</g>
<g font-size="20" font-weight="bold" fill="#111">
<text x="915" y="1957" textLength="83" lengthAdjust="spacingAndGlyphs">point pair1</text>
<text x="915" y="2063" textLength="83" lengthAdjust="spacingAndGlyphs">Point pair2</text>
<text x="914" y="2182" textLength="84" lengthAdjust="spacingAndGlyphs">Point pair3</text>
</g>
<g fill="#5b9bd5">
<polygon points="995,1910 1018,1910 1018,1900 1038,1920 1018,1940 1018,1930 995,1930"/>
<polygon points="995,2013 1018,2013 1018,2003 1038,2023 1018,2043 1018,2033 995,2033"/>
<polygon points="995,2138 1018,2138 1018,2128 1038,2148 1018,2168 1018,2158 995,2158"/>
</g>
<rect x="1063" y="1825" width="187" height="133" rx="20" fill="none" stroke="#9b8ff0" stroke-width="2" stroke-dasharray="7,4"/>
<rect x="1063" y="1967" width="187" height="133" rx="20" fill="none" stroke="#f4a460" stroke-width="2" stroke-dasharray="7,4"/>
<rect x="1063" y="2110" width="187" height="124" rx="20" fill="none" stroke="#e040c0" stroke-width="2" stroke-dasharray="7,4"/>
<rect x="1228" y="1847" width="10" height="324" fill="#bfe3ea"/>
<rect x="1245" y="1822" width="42" height="45" rx="6" fill="#bfe3ea" stroke="#222" stroke-width="1.5" stroke-dasharray="4,3"/>
<text x="1251" y="1860" font-size="11" fill="#111">Cam<tspan font-size="7" dy="3">GT</tspan></text>
<rect x="1077" y="1839" width="87" height="86" fill="#9dc3e6"/>
<rect x="1077" y="1983" width="87" height="87" fill="#9dc3e6"/>
<rect x="1081" y="2121" width="88" height="88" fill="#9dc3e6"/>
<g fill="none" stroke="#fff" stroke-width="2" stroke-dasharray="5,4"><polyline points="1080,1895 1120,1925 1160,1890"/><polyline points="1080,2040 1120,2068 1160,2036"/><polyline points="1084,2178 1124,2207 1164,2172"/></g>
<g>
<circle cx="1102" cy="1862" r="6" fill="#1f4e79"/><circle cx="1130" cy="1853" r="6" fill="#7030a0"/><circle cx="1150" cy="1856" r="6" fill="#f0c000"/><circle cx="1115" cy="1895" r="6" fill="#4a8a30"/><circle cx="1143" cy="1891" r="6" fill="#e02020"/>
<circle cx="1100" cy="2012" r="6" fill="#1f4e79"/><circle cx="1130" cy="1998" r="6" fill="#7030a0"/><circle cx="1152" cy="2000" r="6" fill="#f0c000"/><circle cx="1113" cy="2040" r="6" fill="#4a8a30"/><circle cx="1145" cy="2025" r="6" fill="#e02020"/>
<circle cx="1100" cy="2155" r="6" fill="#1f4e79"/><circle cx="1135" cy="2134" r="6" fill="#7030a0"/><circle cx="1155" cy="2138" r="6" fill="#f0c000"/><circle cx="1110" cy="2178" r="6" fill="#4a8a30"/><circle cx="1143" cy="2168" r="6" fill="#e02020"/>
</g>
<use href="#camo" xlink:href="#camo" x="1114" y="1930" width="11" height="20"/>
<use href="#camo" xlink:href="#camo" x="1114" y="2074" width="11" height="20"/>
<use href="#camo" xlink:href="#camo" x="1118" y="2212" width="11" height="20"/>
<rect x="1178" y="1893" width="12" height="14" fill="#9b8ff0"/><rect x="1183" y="2026" width="12" height="14" fill="#f4a460"/><rect x="1186" y="2163" width="12" height="14" fill="#e040c0"/>
<path d="M1135,1943 Q1175,1950 1182,1912" fill="none" stroke="#9b8ff0" stroke-width="2"/>
<path d="M1135,2085 Q1178,2092 1186,2045" fill="none" stroke="#f4a460" stroke-width="2"/>
<path d="M1138,2222 Q1182,2228 1190,2182" fill="none" stroke="#e040c0" stroke-width="2"/>
<g font-size="18" font-weight="bold" fill="#111">
<text x="1190" y="1890">Cam<tspan font-size="11" dy="5">pred1</tspan></text>
<text x="1190" y="2024">Cam<tspan font-size="11" dy="5">pred2</tspan></text>
<text x="1190" y="2158">Cam<tspan font-size="11" dy="5">pred3</tspan></text>
</g>
<text x="895" y="2218" font-size="22" font-weight="bold" fill="#111" textLength="146" lengthAdjust="spacingAndGlyphs">Top 3 point pairs</text>
<text x="1046" y="2251" font-size="22" font-weight="bold" fill="#111" textLength="217" lengthAdjust="spacingAndGlyphs">Candidate Camera Poses</text>
<line x1="964" y1="2250" x2="964" y2="2226" stroke="#111" stroke-width="2.5" marker-end="url(#ah)"/>
<text x="1261" y="2013" font-size="21" font-weight="bold" fill="#111" textLength="85" lengthAdjust="spacingAndGlyphs">Select Pose</text>
<polygon points="1283,2029 1313,2029 1313,2019 1333,2038 1313,2057 1313,2047 1283,2047" fill="#5b9bd5" stroke="#e03030" stroke-width="2"/>

<!-- Registration -->
<text x="1343" y="1838" font-size="36" font-weight="bold" fill="#111" textLength="184" lengthAdjust="spacingAndGlyphs">Registration</text>
<rect x="1348" y="1963" width="205" height="176" fill="#9dc3e6"/>
<rect x="1633" y="1967" width="204" height="177" fill="#9dc3e6"/>
<g fill="none" stroke-width="2.5" stroke-dasharray="7,5">
<polyline points="1353,2052 1451,2137 1550,2052" stroke="#fff"/>
<polyline points="1638,2056 1736,2142 1835,2056" stroke="#fff"/>
<line x1="1401" y1="2137" x2="1553" y2="2045" stroke="#f4a460"/><line x1="1524" y1="1963" x2="1553" y2="2043" stroke="#f4a460"/>
<line x1="1686" y1="2142" x2="1837" y2="2050" stroke="#f4a460"/><line x1="1808" y1="1967" x2="1837" y2="2048" stroke="#f4a460"/>
<circle cx="1428" cy="2057" r="18" stroke="#f4a460"/>
</g>
<g stroke="#111" stroke-width="2.5" stroke-dasharray="2,3" fill="none">
<line x1="1452" y1="2150" x2="1452" y2="1956" marker-end="url(#ah)"/><line x1="1348" y1="2139" x2="1565" y2="2139" marker-end="url(#ah)"/>
<line x1="1737" y1="2155" x2="1737" y2="1958" marker-end="url(#ah)"/><line x1="1633" y1="2144" x2="1850" y2="2144" marker-end="url(#ah)"/>
</g>
<circle cx="1389" cy="2019" r="7" fill="#1f4e79"/><circle cx="1458" cy="1993" r="7" fill="#7030a0"/><circle cx="1497" cy="1995" r="7" fill="#f0c000"/><circle cx="1428" cy="2060" r="7" fill="#4a8a30"/><circle cx="1506" cy="2043" r="7" fill="#e02020"/>
<circle cx="1675" cy="2023" r="7" fill="#2070c0"/><circle cx="1742" cy="1998" r="7" fill="#7030a0"/><circle cx="1783" cy="1999" r="7" fill="#f0c000"/><circle cx="1713" cy="2061" r="7" fill="#20a040"/><circle cx="1792" cy="2054" r="7" fill="#e02020"/>
<text x="1395" y="2087" font-size="10" fill="#111">aligned point2</text>
<rect x="1561" y="2045" width="9" height="13" fill="none" stroke="#f4a460" stroke-width="2"/><rect x="1571" y="2045" width="11" height="13" fill="none" stroke="#f4a460" stroke-width="2"/>
<rect x="1852" y="2049" width="9" height="13" fill="none" stroke="#f4a460" stroke-width="2"/><rect x="1862" y="2049" width="11" height="13" fill="none" stroke="#f4a460" stroke-width="2"/>
<polygon points="1593,2050 1615,2050 1615,2041 1631,2060 1615,2079 1615,2070 1593,2070" fill="#5b9bd5"/>
<use href="#camo" xlink:href="#camo" x="1446" y="2148" width="13" height="24"/>
<use href="#camo" xlink:href="#camo" x="1731" y="2151" width="13" height="24"/>
<text x="1455" y="2197" font-size="26" font-weight="bold" fill="#111" text-anchor="middle" textLength="105" lengthAdjust="spacingAndGlyphs">Unified BEV</text>
<text x="1737" y="2200" font-size="26" font-weight="bold" fill="#111" text-anchor="middle" textLength="134" lengthAdjust="spacingAndGlyphs">Registered BEV</text>
<rect x="1558" y="1815" width="200" height="140" rx="22" fill="#fff" fill-opacity="0.3" stroke="#222" stroke-width="2" stroke-dasharray="6,4"/>
<line x1="1563" y1="1905" x2="1545" y2="1963" stroke="#222" stroke-width="2" stroke-dasharray="6,4"/>
<line x1="1585" y1="1955" x2="1575" y2="1963" stroke="#222" stroke-width="2" stroke-dasharray="6,4"/>
<rect x="1657" y="1872" width="42" height="62" rx="6" fill="none" stroke="#c09000" stroke-width="2" stroke-dasharray="4,3"/>
<rect x="1667" y="1823" width="10" height="12" fill="#9b8ff0"/><rect x="1605" y="1894" width="10" height="12" fill="#e040c0"/><rect x="1688" y="1897" width="10" height="12" fill="#f4a460"/>
<g stroke="#111" stroke-width="1.5"><line x1="1665" y1="1880" x2="1670" y2="1840"/><line x1="1662" y1="1882" x2="1615" y2="1898"/><line x1="1666" y1="1884" x2="1688" y2="1900"/></g>
<circle cx="1664" cy="1881" r="4" fill="#e02020"/>
<g class="s" font-size="11" fill="#111"><text x="1603" y="1830">(x<tspan font-size="8" dy="3">Cp1</tspan><tspan dy="-3">, y</tspan><tspan font-size="8" dy="3">Cp1</tspan><tspan dy="-3">)</tspan></text><text x="1585" y="1925">(x<tspan font-size="8" dy="3">Cp3</tspan><tspan dy="-3">, y</tspan><tspan font-size="8" dy="3">Cp3</tspan><tspan dy="-3">)</tspan></text><text x="1665" y="1925">(x<tspan font-size="8" dy="3">Cp2</tspan><tspan dy="-3">, y</tspan><tspan font-size="8" dy="3">Cp2</tspan><tspan dy="-3">)</tspan></text><text x="1670" y="1857">d<tspan font-size="8" dy="3">1</tspan></text><text x="1633" y="1883">d<tspan font-size="8" dy="3">2</tspan></text><text x="1668" y="1900">d<tspan font-size="8" dy="3">3</tspan></text></g>
<text x="1669" y="1880" font-size="10" fill="#111">centroid</text>
<text x="1628" y="1945" class="s" font-size="12" font-style="italic" fill="#c09000">min(d₁,d₂,d₃)=d₃</text>
<rect x="1442" y="2204" width="27" height="60" fill="#aab4c8"/>
<polygon points="1427,2264 1484,2264 1455,2296" fill="#aab4c8"/>

<!-- bottom self-supervision -->
<polyline points="211,2215 211,2350 358,2350" fill="none" stroke="#111" stroke-width="2.5" marker-end="url(#ah)"/>
<g stroke-width="2.5">
<rect x="395" y="2289" width="11" height="46" fill="#888" stroke="#e02020"/><rect x="405" y="2292" width="11" height="46" fill="#7a8a78" stroke="#20a040"/><rect x="437" y="2289" width="11" height="46" fill="#7a8090" stroke="#2070c0"/><rect x="449" y="2292" width="11" height="46" fill="#80a0c8" stroke="#7030a0"/>
<rect x="395" y="2370" width="11" height="46" fill="#7a8a78" stroke="#20a040"/><rect x="405" y="2373" width="11" height="46" fill="#999" stroke="#e02020"/><rect x="437" y="2370" width="11" height="46" fill="#4a3a70" stroke="#f0c000"/><rect x="449" y="2373" width="11" height="46" fill="#806a6a" stroke="#3060a0"/>
</g>
<polygon points="480,2280 503,2292 503,2336 480,2346" fill="#d5dcef"/>
<polygon points="480,2366 503,2378 503,2420 480,2430" fill="#d5dcef"/>
<g><rect x="512" y="2296" width="5" height="34" fill="#f4b8b8"/><rect x="518" y="2296" width="5" height="34" fill="#a8d8c8"/><rect x="533" y="2296" width="5" height="34" fill="#9ab0e0"/><rect x="539" y="2296" width="5" height="34" fill="#9070c8"/>
<rect x="512" y="2382" width="5" height="34" fill="#a8d8c8"/><rect x="518" y="2382" width="5" height="34" fill="#f4b8b8"/><rect x="533" y="2382" width="5" height="34" fill="#f0d060"/><rect x="539" y="2382" width="5" height="34" fill="#9ab0e0"/></g>
<text x="488" y="2351" font-size="13" font-weight="bold" text-anchor="middle">resnet-50</text>
<text x="491" y="2436" font-size="13" font-weight="bold" text-anchor="middle">resnet-50</text>
<polyline points="554,2313 577,2313 577,2386 554,2386" fill="none" stroke="#111" stroke-width="2.5"/>
<line x1="577" y1="2350" x2="615" y2="2350" stroke="#111" stroke-width="2.5" marker-end="url(#ah)"/>
<rect x="661" y="2336" width="364" height="29" fill="#d0d3da"/>
<polygon points="661,2308 661,2392 618,2350" fill="#d0d3da"/>
<g fill="#fce4d6">
<rect x="661" y="2309" width="17" height="16"/><rect x="679" y="2309" width="17" height="16"/><rect x="697" y="2309" width="17" height="16"/><rect x="715" y="2309" width="17" height="16"/><rect x="733" y="2309" width="17" height="16"/>
<rect x="661" y="2326" width="17" height="16"/><rect x="679" y="2326" width="17" height="16"/><rect x="697" y="2326" width="17" height="16"/><rect x="715" y="2326" width="17" height="16"/><rect x="733" y="2326" width="17" height="16"/>
<rect x="661" y="2343" width="17" height="16"/><rect x="679" y="2343" width="17" height="16"/><rect x="697" y="2343" width="17" height="16"/><rect x="715" y="2343" width="17" height="16"/><rect x="733" y="2343" width="17" height="16"/>
<rect x="661" y="2360" width="17" height="16"/><rect x="679" y="2360" width="17" height="16"/><rect x="697" y="2360" width="17" height="16"/><rect x="715" y="2360" width="17" height="16"/><rect x="733" y="2360" width="17" height="16"/>
<rect x="661" y="2377" width="17" height="16"/><rect x="679" y="2377" width="17" height="16"/><rect x="697" y="2377" width="17" height="16"/><rect x="715" y="2377" width="17" height="16"/><rect x="733" y="2377" width="17" height="16"/>
</g>
<rect x="679" y="2309" width="17" height="16" fill="#c00000"/><rect x="661" y="2326" width="17" height="16" fill="#e05030"/><rect x="715" y="2326" width="17" height="16" fill="#f4b8b8"/><rect x="697" y="2360" width="17" height="16" fill="#f4b8b8"/><rect x="715" y="2377" width="17" height="16" fill="#c00000"/>
<text x="664" y="2304" class="s" font-size="12" font-style="italic" textLength="86" lengthAdjust="spacingAndGlyphs">p₁¹ p₂¹ ··· pₙ₋₁¹ pₙ¹</text>
<g class="s" font-size="12" font-style="italic" text-anchor="end"><text x="657" y="2322">p₁²</text><text x="657" y="2339">p₂²</text><text x="657" y="2373">pₘ₋₁²</text><text x="657" y="2390">pₘ²</text></g>
<text x="623" y="2425" font-size="23" font-weight="bold" fill="#111" textLength="148" lengthAdjust="spacingAndGlyphs">Similarity Matrix</text>
<text x="769" y="2298" font-size="21" font-weight="bold" fill="#111" textLength="134" lengthAdjust="spacingAndGlyphs">Sort Confidences</text>
<line x1="769" y1="2307" x2="917" y2="2307" stroke="#111" stroke-width="2.5" marker-end="url(#ah)"/>
<text x="806" y="2386" font-size="26" font-weight="bold" fill="#111" textLength="161" lengthAdjust="spacingAndGlyphs">Self-Supervision</text>
<rect x="924" y="2250" width="79" height="63" rx="8" fill="none" stroke="#222" stroke-width="2" stroke-dasharray="6,4"/>
<text x="963" y="2271" class="s" font-size="13" font-style="italic" text-anchor="middle">(p₁¹,  p₂²)</text>
<text x="963" y="2285" font-size="11" text-anchor="middle">···</text>
<text x="963" y="2303" class="s" font-size="13" font-style="italic" text-anchor="middle">(pₙ₋₁¹, pₘ²)</text>
<text x="913" y="2330" font-size="17" font-weight="bold" fill="#111" textLength="99" lengthAdjust="spacingAndGlyphs">Matching Pairs</text>
<rect x="1026" y="2280" width="123" height="123" fill="#d3d3d8"/>
<g fill="#fce4d6">
<rect x="1055" y="2307" width="16" height="15"/><rect x="1072" y="2307" width="16" height="15"/><rect x="1089" y="2307" width="16" height="15"/><rect x="1106" y="2307" width="16" height="15"/><rect x="1123" y="2307" width="16" height="15"/>
<rect x="1055" y="2323" width="16" height="15"/><rect x="1072" y="2323" width="16" height="15"/><rect x="1089" y="2323" width="16" height="15"/><rect x="1106" y="2323" width="16" height="15"/><rect x="1123" y="2323" width="16" height="15"/>
<rect x="1055" y="2339" width="16" height="15"/><rect x="1072" y="2339" width="16" height="15"/><rect x="1089" y="2339" width="16" height="15"/><rect x="1106" y="2339" width="16" height="15"/><rect x="1123" y="2339" width="16" height="15"/>
<rect x="1055" y="2355" width="16" height="15"/><rect x="1072" y="2355" width="16" height="15"/><rect x="1089" y="2355" width="16" height="15"/><rect x="1106" y="2355" width="16" height="15"/><rect x="1123" y="2355" width="16" height="15"/>
<rect x="1055" y="2371" width="16" height="15"/><rect x="1072" y="2371" width="16" height="15"/><rect x="1089" y="2371" width="16" height="15"/><rect x="1106" y="2371" width="16" height="15"/><rect x="1123" y="2371" width="16" height="15"/>
</g>
<rect x="1072" y="2307" width="16" height="15" fill="#8b0000"/><rect x="1055" y="2323" width="16" height="15" fill="#8b0000"/><rect x="1123" y="2355" width="16" height="15" fill="#e0a0a0"/><rect x="1106" y="2371" width="16" height="15" fill="#8b0000"/>
<text x="1056" y="2302" class="s" font-size="12" font-style="italic" textLength="84" lengthAdjust="spacingAndGlyphs">p₁¹ p₂¹···pₙ₋₁¹ pₙ¹</text>
<g class="s" font-size="12" font-style="italic" text-anchor="end"><text x="1052" y="2319">p₁²</text><text x="1052" y="2335">p₂²</text><text x="1052" y="2368">pₘ₋₁²</text><text x="1052" y="2384">pₘ²</text></g>
<text x="1021" y="2422" font-size="23" font-weight="bold" fill="#111" textLength="128" lengthAdjust="spacingAndGlyphs">Pseudo Matrix</text>
<rect x="1175" y="2338" width="109" height="25" fill="#d0d3da"/>
<polygon points="1175,2322 1175,2378 1149,2350" fill="#d0d3da"/>
<text x="1182" y="2386" font-size="26" font-weight="bold" fill="#111" textLength="88" lengthAdjust="spacingAndGlyphs">Combine</text>
<rect x="1288" y="2299" width="262" height="115" rx="16" fill="#fff" fill-opacity="0.3" stroke="#2e75b6" stroke-width="2" stroke-dasharray="7,4"/>
<g fill="#fce4d6">
<rect x="1333" y="2321" width="69" height="63"/><rect x="1443" y="2321" width="68" height="63"/>
</g>
<g stroke="#fff" stroke-width="1.5"><line x1="1347" y1="2321" x2="1347" y2="2384"/><line x1="1361" y1="2321" x2="1361" y2="2384"/><line x1="1375" y1="2321" x2="1375" y2="2384"/><line x1="1389" y1="2321" x2="1389" y2="2384"/><line x1="1333" y1="2334" x2="1402" y2="2334"/><line x1="1333" y1="2346" x2="1402" y2="2346"/><line x1="1333" y1="2359" x2="1402" y2="2359"/><line x1="1333" y1="2371" x2="1402" y2="2371"/>
<line x1="1457" y1="2321" x2="1457" y2="2384"/><line x1="1470" y1="2321" x2="1470" y2="2384"/><line x1="1484" y1="2321" x2="1484" y2="2384"/><line x1="1497" y1="2321" x2="1497" y2="2384"/><line x1="1443" y1="2334" x2="1511" y2="2334"/><line x1="1443" y1="2346" x2="1511" y2="2346"/><line x1="1443" y1="2359" x2="1511" y2="2359"/><line x1="1443" y1="2371" x2="1511" y2="2371"/></g>
<rect x="1348" y="2322" width="12" height="11" fill="#8b0000"/><rect x="1334" y="2335" width="12" height="11" fill="#8b0000"/><rect x="1376" y="2335" width="12" height="11" fill="#e89090"/><rect x="1362" y="2347" width="12" height="11" fill="#e09090"/><rect x="1390" y="2360" width="12" height="11" fill="#d06060"/><rect x="1376" y="2372" width="12" height="11" fill="#8b0000"/>
<rect x="1458" y="2322" width="12" height="11" fill="#e05030"/><rect x="1444" y="2335" width="12" height="11" fill="#e05030"/><rect x="1485" y="2335" width="12" height="11" fill="#f0a090"/><rect x="1471" y="2347" width="12" height="11" fill="#e09090"/><rect x="1498" y="2360" width="12" height="11" fill="#d05050"/><rect x="1485" y="2372" width="12" height="11" fill="#8b0000"/>
<text x="1335" y="2316" class="s" font-size="10" font-style="italic" textLength="66" lengthAdjust="spacingAndGlyphs">p₁¹ p₂¹ ···pₙ₋₁¹pₙ¹</text>
<text x="1445" y="2316" class="s" font-size="10" font-style="italic" textLength="66" lengthAdjust="spacingAndGlyphs">p₁¹ p₂¹ ···pₙ₋₁¹pₙ¹</text>
<text x="1323" y="2406" font-size="16" fill="#111" textLength="86" lengthAdjust="spacingAndGlyphs">Angle Matrix</text>
<text x="1424" y="2406" font-size="16" fill="#111" textLength="104" lengthAdjust="spacingAndGlyphs">Distance Matrix</text>
<line x1="1550" y1="2351" x2="1604" y2="2351" stroke="#111" stroke-width="2.5" marker-end="url(#ah)"/>
<circle cx="1626" cy="2351" r="19" fill="none" stroke="#111" stroke-width="2.5"/>
<line x1="1607" y1="2351" x2="1645" y2="2351" stroke="#111" stroke-width="2.5"/><line x1="1626" y1="2332" x2="1626" y2="2370" stroke="#111" stroke-width="2.5"/>
<polyline points="1645,2351 1739,2351 1739,2212" fill="none" stroke="#111" stroke-width="2.5" marker-end="url(#ah)"/>
<polyline points="711,2400 711,2437 1626,2437 1626,2373" fill="none" stroke="#111" stroke-width="2.5" marker-end="url(#ah)"/>
<text x="1639" y="2396" font-size="26" font-weight="bold" fill="#111" textLength="97" lengthAdjust="spacingAndGlyphs">Aggregate</text>

<!-- method right text -->
<text x="1920" y="1852" font-size="45" font-weight="bold" fill="#0a4a74" textLength="919" lengthAdjust="spacingAndGlyphs">View-Transform Detection Module (VTM)</text>
<text x="1936" y="1925" font-size="40" fill="#111" textLength="163" lengthAdjust="spacingAndGlyphs">LocoNet:</text>
<text x="2197" y="1924" class="s" font-size="40" fill="#111" textLength="579" lengthAdjust="spacingAndGlyphs"><tspan font-weight="bold">p</tspan><tspan font-size="26" font-style="italic" dy="-16">v</tspan><tspan font-size="26" font-style="italic" dx="-11" dy="26">i</tspan><tspan dy="-10"> ≜ (</tspan><tspan font-style="italic">x</tspan><tspan font-size="26" font-style="italic" dy="-16">v</tspan><tspan font-size="26" font-style="italic" dx="-11" dy="26">i</tspan><tspan dy="-10">, </tspan><tspan font-style="italic">y</tspan><tspan font-size="26" font-style="italic" dy="-16">v</tspan><tspan font-size="26" font-style="italic" dx="-11" dy="26">i</tspan><tspan dy="-10">, </tspan><tspan font-style="italic">r</tspan><tspan font-size="26" font-style="italic" dy="-16">v</tspan><tspan font-size="26" font-style="italic" dx="-11" dy="26">i</tspan><tspan dy="-10">) = LocoNet (</tspan><tspan font-weight="bold">k</tspan><tspan font-size="26" font-style="italic" dy="-16">v</tspan><tspan font-size="26" font-style="italic" dx="-11" dy="26">i</tspan><tspan dy="-10">)</tspan></text>
<text x="1920" y="1995" font-size="45" font-weight="bold" fill="#0a4a74" textLength="732" lengthAdjust="spacingAndGlyphs">Spatial Alignment Module (SAM)</text>
<text x="1936" y="2096" font-size="40" fill="#111" textLength="185" lengthAdjust="spacingAndGlyphs">Geometry</text>
<text x="1936" y="2141" font-size="40" fill="#111" textLength="283" lengthAdjust="spacingAndGlyphs">transformation:</text>
<path d="M2248,2018 Q2233,2020 2234,2048 L2234,2078 Q2234,2093 2222,2095 Q2234,2097 2234,2112 L2234,2142 Q2233,2170 2248,2172" fill="none" stroke="#111" stroke-width="3"/>
<g class="s" font-size="38" fill="#222">
<text x="2253" y="2060" font-style="italic">δ<tspan font-size="25" dy="7">x</tspan></text>
<text x="2253" y="2111" font-style="italic">δ<tspan font-size="25" dy="7">y</tspan></text>
<text x="2253" y="2162" font-style="italic">δ<tspan font-size="25" dy="7">θ</tspan></text>
<text x="2323" y="2060">=</text><text x="2323" y="2111">=</text><text x="2323" y="2162">=</text>
<text x="2369" y="2060" textLength="446" lengthAdjust="spacingAndGlyphs"><tspan font-style="italic">x</tspan><tspan font-size="25" dy="7">ref</tspan><tspan dy="-7"> − </tspan><tspan font-style="italic">x</tspan><tspan font-size="25" dy="7">unr</tspan><tspan dy="-7"> cos </tspan><tspan font-style="italic">δ</tspan><tspan font-size="25" font-style="italic" dy="7">θ</tspan><tspan dy="-7"> + </tspan><tspan font-style="italic">y</tspan><tspan font-size="25" dy="7">unr</tspan><tspan dy="-7"> sin </tspan><tspan font-style="italic">δ</tspan><tspan font-size="25" font-style="italic" dy="7">θ</tspan></text>
<text x="2369" y="2111" textLength="446" lengthAdjust="spacingAndGlyphs"><tspan font-style="italic">y</tspan><tspan font-size="25" dy="7">ref</tspan><tspan dy="-7"> − </tspan><tspan font-style="italic">x</tspan><tspan font-size="25" dy="7">unr</tspan><tspan dy="-7"> sin </tspan><tspan font-style="italic">δ</tspan><tspan font-size="25" font-style="italic" dy="7">θ</tspan><tspan dy="-7"> − </tspan><tspan font-style="italic">y</tspan><tspan font-size="25" dy="7">unr</tspan><tspan dy="-7"> cos </tspan><tspan font-style="italic">δ</tspan><tspan font-size="25" font-style="italic" dy="7">θ</tspan></text>
<text x="2826" y="2111">.</text>
<text x="2369" y="2162" textLength="155" lengthAdjust="spacingAndGlyphs"><tspan font-style="italic">r</tspan><tspan font-size="25" dy="7">ref</tspan><tspan dy="-7"> − </tspan><tspan font-style="italic">r</tspan><tspan font-size="25" dy="7">unr</tspan></text>
</g>
<text x="1922" y="2233" font-size="40" fill="#111" textLength="370" lengthAdjust="spacingAndGlyphs">Self-supervised loss:</text>
<text x="2373" y="2232" class="s" font-size="40" fill="#222" textLength="445" lengthAdjust="spacingAndGlyphs"><tspan font-style="italic">ℒ</tspan><tspan font-size="26" dy="8">App</tspan><tspan dy="-8"> = ‖M</tspan><tspan font-size="26" dy="8">pred</tspan><tspan dy="-8"> − M</tspan><tspan font-size="26" dy="8">spatial</tspan><tspan dy="-8">‖.</tspan></text>
<text x="1920" y="2312" font-size="45" font-weight="bold" fill="#0a4a74" textLength="455" lengthAdjust="spacingAndGlyphs">Registration Module</text>
<circle cx="1962" cy="2373" r="5" fill="#111"/>
<text x="1997" y="2386" font-size="38" fill="#111" textLength="656" lengthAdjust="spacingAndGlyphs">Minimum centroid distance startegy</text>
<circle cx="1962" cy="2428" r="5" fill="#111"/>
<text x="1997" y="2441" font-size="38" fill="#111" textLength="755" lengthAdjust="spacingAndGlyphs">Hierachical maximum spanning algorithm</text>
</svg>
</body></html>
